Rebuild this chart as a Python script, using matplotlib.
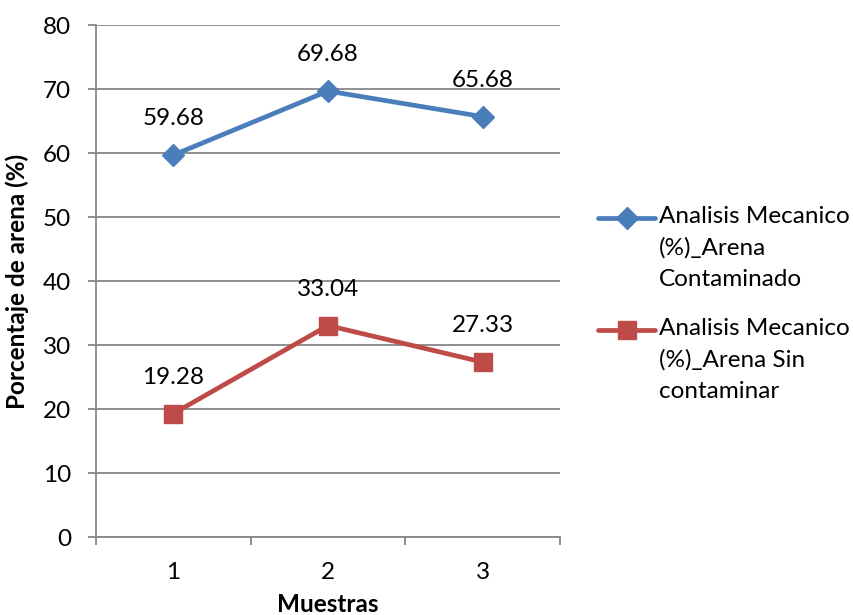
import matplotlib
matplotlib.use("Agg")
import matplotlib.pyplot as plt
from matplotlib.lines import Line2D

plt.rcParams['font.family'] = ['Lato', 'DejaVu Sans']

muestras = [1, 2, 3]
contaminado = [59.68, 69.68, 65.68]
sin_contaminar = [19.28, 33.04, 27.33]
y_ticks = [0, 10, 20, 30, 40, 50, 60, 70, 80]
serie_labels = ["Analisis Mecanico\n(%)_Arena\nContaminado",
                "Analisis Mecanico\n(%)_Arena Sin\ncontaminar"]

blue = "#4A7EBB"
red = "#BE4B48"
grid_c = "#878787"
fs = 17.5

fig = plt.figure(figsize=(8.54, 6.15), dpi=100)
ax = fig.add_axes([96/854, 1-537/615, (560-96)/854, (537-25)/615])

styles = [dict(color=blue, marker='D', ms=11), dict(color=red, marker='s', ms=13.5)]
series = [contaminado, sin_contaminar]
for ys, st, lab in zip(series, styles, serie_labels):
    ax.plot(muestras, ys, lw=3.4, mec=st['color'], mfc=st['color'],
            label=lab, zorder=3, **st)
    for x, y in zip(muestras, ys):
        ax.annotate(f"{y:.2f}", (x, y), xytext=(0, 26), textcoords='offset points',
                    ha='center', va='center', fontsize=fs, color='black')

ax.set_xlim(0.5, 3.5)
ax.set_ylim(0, 80)
ax.set_yticks(y_ticks)
ax.set_yticklabels([str(v) for v in y_ticks], fontsize=fs)
ax.set_xticks([0.5, 1.5, 2.5, 3.5])
ax.set_xticklabels([])
ax.set_xticks(muestras, minor=True)
ax.set_xticklabels([str(m) for m in muestras], minor=True, fontsize=fs)
ax.tick_params(axis='x', which='minor', length=0, pad=18)
ax.tick_params(axis='x', which='major', length=6, width=1.3, color=grid_c, direction='out')
ax.tick_params(axis='y', length=6, width=1.3, color=grid_c, direction='out', pad=12)

ax.yaxis.grid(True, color=grid_c, lw=1.3, zorder=0)
ax.set_axisbelow(True)
for s in ('top', 'right'):
    ax.spines[s].set_visible(False)
for s in ('left', 'bottom'):
    ax.spines[s].set_color(grid_c)
    ax.spines[s].set_linewidth(1.3)

ax.set_xlabel("Muestras", fontsize=fs, fontweight='bold', labelpad=7)
ax.set_ylabel("Porcentaje de arena (%)", fontsize=fs, fontweight='bold', labelpad=10)

# legend: handle aligned with the first line of each wrapped label
W, H = 854, 615
entry_tops = [218, 330]
for top, st, lab in zip(entry_tops, styles, serie_labels):
    yf = 1 - top / H
    fig.add_artist(Line2D([598/W, 655/W], [yf, yf], transform=fig.transFigure,
                          color=st['color'], lw=3.4, solid_capstyle='round'))
    fig.add_artist(Line2D([627/W], [yf], transform=fig.transFigure, lw=0,
                          marker=st['marker'], ms=st['ms'], color=st['color']))
    fig.text(659/W, yf + 12/H, lab, ha='left', va='top', fontsize=fs,
             linespacing=1.58)

fig.savefig("out.png", dpi=100)
